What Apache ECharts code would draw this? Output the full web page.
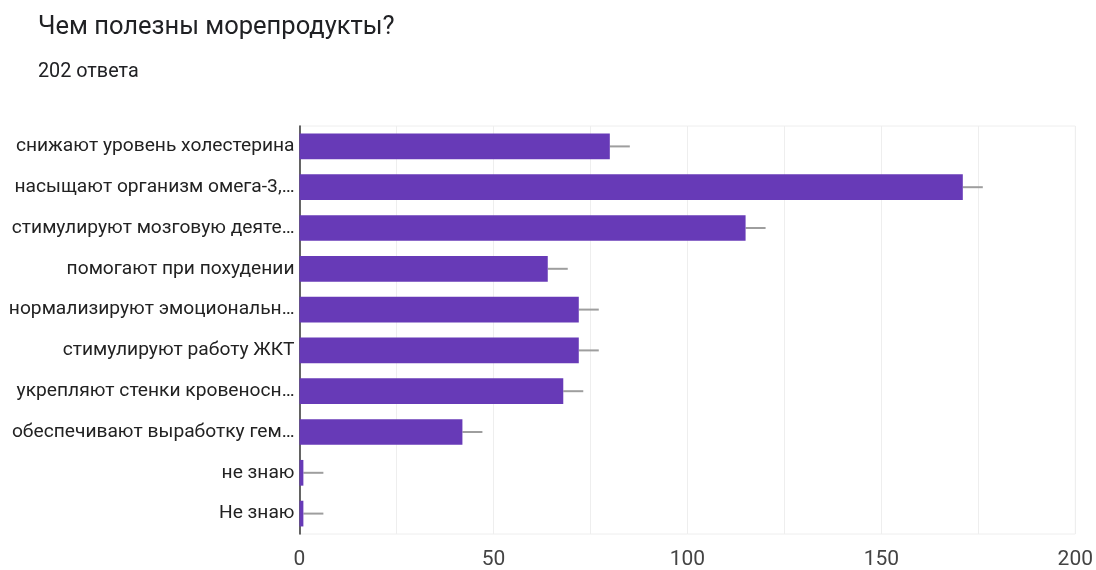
<!DOCTYPE html>
<html><head><meta charset="utf-8">
<script src="https://cdn.jsdelivr.net/npm/echarts@6/dist/echarts.min.js"></script>
<style>html,body{margin:0;padding:0;background:#fff}#c{width:1096px;height:570px}</style>
</head><body><div id="c"></div>
<script>
const titleText = "Чем полезны морепродукты?";
const subtitleText = "202 ответа";
const categories = [
  "снижают уровень холестерина",
  "насыщают организм омега-3,…",
  "стимулируют мозговую деяте…",
  "помогают при похудении",
  "нормализируют эмоциональн…",
  "стимулируют работу ЖКТ",
  "укрепляют стенки кровеносн…",
  "обеспечивают выработку гем…",
  "не знаю",
  "Не знаю"
];
const values = [80, 171, 115, 64, 72, 72, 68, 42, 1, 1];
const xTicks = [0, 50, 100, 150, 200];

const chart = echarts.init(document.getElementById('c'));
chart.setOption({
  animation: false,
  title: [
    {text: titleText, left: 33, top: 10, textStyle: {fontFamily: 'Roboto', fontSize: 25.5, fontWeight: 'normal', color: '#202124'}},
    {text: subtitleText, left: 33, top: 57, textStyle: {fontFamily: 'Roboto', fontSize: 19.8, fontWeight: 'normal', color: '#202124'}}
  ],
  grid: {left: 299.5, right: 18, top: 126, bottom: 36, show: true, borderColor: '#eeeeee', borderWidth: 1},
  xAxis: {
    type: 'value', min: 0, max: 200, interval: 25,
    axisLine: {show: false}, axisTick: {show: false},
    splitLine: {lineStyle: {color: '#eeeeee', width: 1}},
    axisLabel: {
      margin: 15, fontFamily: 'Roboto', fontSize: 21, color: '#444',
      formatter: v => xTicks.indexOf(v) >= 0 ? String(v) : ''
    }
  },
  yAxis: {
    type: 'category', data: categories, inverse: true,
    axisLine: {show: true, lineStyle: {color: '#333', width: 1.5}},
    axisTick: {show: false},
    axisLabel: {margin: 5, fontFamily: 'Roboto', fontSize: 19.2, color: '#222'}
  },
  series: [
    {type: 'bar', data: values, barCategoryGap: '37%', itemStyle: {color: '#673ab7'}, z: 2},
    {
      type: 'custom', z: 1,
      data: values.map((v, i) => [v, i]),
      renderItem: function (params, api) {
        const p = api.coord([api.value(0), api.value(1)]);
        return {type: 'line', shape: {x1: p[0], y1: p[1], x2: p[0] + 20, y2: p[1]},
          style: {stroke: '#9e9e9e', lineWidth: 2}};
      }
    }
  ]
});
</script></body></html>
